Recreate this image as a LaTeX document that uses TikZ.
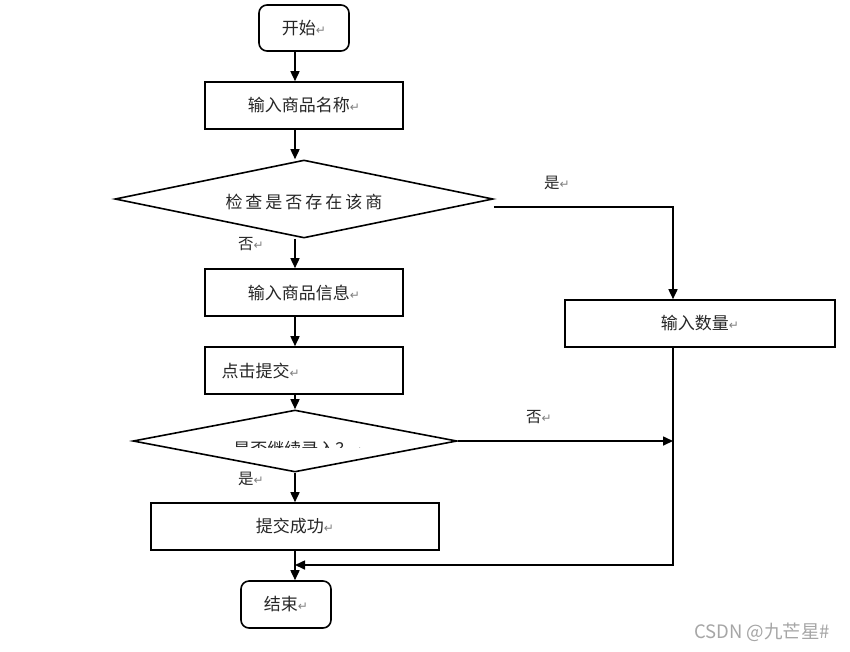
\documentclass[tikz,border=0pt]{standalone}
\usepackage{fontspec}
\setmainfont{Noto Sans CJK SC}
\newfontfamily\symfont{DejaVu Sans}
\usetikzlibrary{shapes.geometric,arrows.meta}
\newcommand\pmk{{\symfont\color{gray}\fontsize{12}{12}\selectfont ↵}}
\tikzset{
  pbox/.style={draw,rectangle,line width=1.6pt,minimum height=47pt,inner sep=0pt},
  rbox/.style={pbox,rounded corners=8pt},
  dia/.style={draw,diamond,inner sep=0pt,line width=1.6pt},
  arr/.style={line width=1.6pt,-{Triangle[length=10pt,width=9pt]}},
  lab/.style={font=\fontsize{15.5}{15.5}\selectfont,text=black!85},
  txt/.style={font=\fontsize{17}{17}\selectfont,text=black!85}
}
\begin{document}
\begin{tikzpicture}[x=1pt,y=-1pt,font=\fontsize{17}{17}\selectfont]
\useasboundingbox[fill=white] (0,0) rectangle (850,651);
\coordinate (c) at (295,0);
\coordinate (r) at (673,0);
\coordinate (m) at (295,565);

\node[rbox,minimum width=90pt,minimum height=46pt,txt] (start) at (304,28) {开始\pmk};
\node[pbox,minimum width=198pt,txt] (name) at (304,105.5) {输入商品名称\pmk};
\node[dia,minimum width=378pt,minimum height=78pt] (d1) at (304,199) {};
\node[txt] (d1t) at (304,202) {检\hspace{3pt}查\hspace{3pt}是\hspace{3pt}否\hspace{3pt}存\hspace{3pt}在\hspace{3pt}该\hspace{3pt}商};
\node[pbox,minimum width=198pt,txt] (info) at (304,292.5) {输入商品信息\pmk};
\node[pbox,minimum width=198pt] (submit) at (304,370.5) {};
\node[txt,anchor=west] (subt) at (218,370.5) {点击提交\pmk};
\node[dia,minimum width=324pt,minimum height=62pt] (d2) at (295,441) {};
\begin{scope}
  \clip (200,430) rectangle (400,447);
  \node[txt] (d2t) at (298,449) {是否继续录入？\pmk};
\end{scope}
\node[pbox,minimum width=288pt,txt] (ok) at (295,526.5) {提交成功\pmk};
\node[rbox,minimum width=90pt,txt] (end) at (286,604.5) {结束\pmk};
\node[pbox,minimum width=270pt,txt] (qty) at (700,323.5) {输入数量\pmk};

\draw[arr] (start.south -| c) -- (name.north -| c);
\draw[arr] (name.south -| c) -- (d1.north -| c);
\draw[arr] ([yshift=-8pt]d1.east) -| (qty.north -| r);
\draw[arr] (d1.south -| c) -- (info.north -| c);
\draw[arr] (info.south -| c) -- (submit.north -| c);
\draw[arr] (submit.south -| c) -- (d2.north);
\draw[arr] (d2.east) -- (d2.east -| r);
\draw[arr] (qty.south -| r) |- (m);
\draw[arr] (d2.south) -- (ok.north);
\draw[arr] (ok.south) -- (end.north -| c);

\node[lab] (l1) at (557,183) {是\pmk};
\node[lab] (l2) at (251,244) {否\pmk};
\node[lab] (l3) at (539,417) {否\pmk};
\node[lab] (l4) at (251,479) {是\pmk};

\node[text=gray!70,font=\fontsize{18.5}{18.5}\selectfont] (wm) at (762,632) {CSDN @九芒星\#};
\end{tikzpicture}
\end{document}
